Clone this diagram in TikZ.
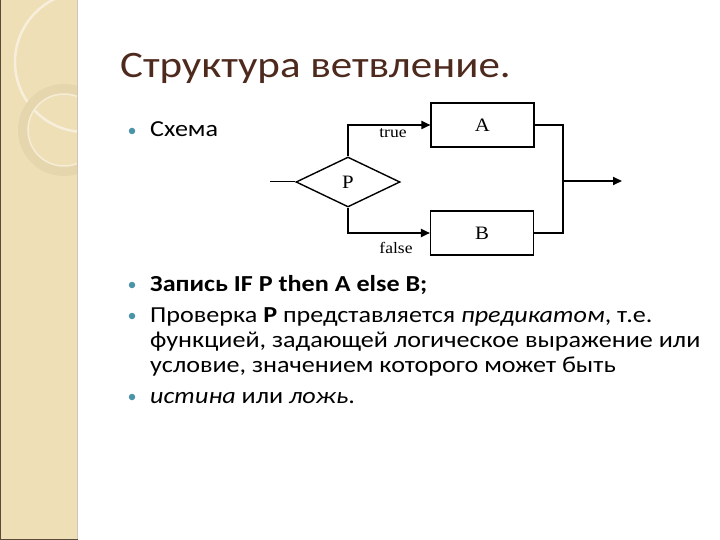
\documentclass[tikz,border=0pt]{standalone}
\usepackage{fontspec}
\setmainfont{Carlito}[FakeStretch=1.14]
\newfontfamily\titlefont{Carlito}[FakeStretch=1.15]
\newfontfamily\diagfont{Liberation Serif}[FakeStretch=1.1]
\usetikzlibrary{shapes.geometric,arrows.meta,positioning,calc}
\definecolor{stripfill}{HTML}{EEDFB6}
\definecolor{stripedge}{HTML}{D6C2B4}
\definecolor{stripdark}{HTML}{5A4A38}
\definecolor{ringtone}{HTML}{E5D6AE}
\definecolor{titlebrown}{HTML}{4E2A1E}
\definecolor{bullteal}{HTML}{4A93A8}

\begin{document}
\begin{tikzpicture}[x=1bp, y=-1bp,
  blk/.style={rectangle, draw, line width=1.1bp, minimum width=103bp, minimum height=44bp, inner sep=0pt, font=\diagfont\fontsize{19}{19}\selectfont},
  cond/.style={diamond, draw, line width=1.4bp, minimum width=104bp, minimum height=50bp, inner sep=0pt, font=\diagfont\fontsize{19}{19}\selectfont},
  flow/.style={line width=1.8bp},
  arr/.style={flow, -{Triangle[length=9bp, width=8bp]}},
  lbl/.style={inner sep=0pt, font=\diagfont\fontsize{16}{16}\selectfont},
  txt/.style={anchor=base west, inner sep=0pt, font=\fontsize{23}{25}\selectfont},
  bull/.style={circle, fill=bullteal, minimum size=6.5bp, inner sep=0pt}
]
  \useasboundingbox (0,0) rectangle (720,540);
  \fill[white] (0,0) rectangle (720,540);

  % left strip
  \fill[stripfill] (0,0) rectangle (77,540);
  \begin{scope}
    \clip (0,0) rectangle (77,540);
    \draw[white!50!stripfill, line width=2.5bp] (85,62) circle (70);
    \draw[ringtone, line width=10bp] (64,130) circle (41);
    \draw[white!45!stripfill, line width=1.5bp] (64,130) circle (36);
  \end{scope}
  \draw[stripedge, line width=1.8bp] (77.5,0) -- (77.5,540);
  \draw[stripdark, line width=1.2bp] (0.6,0) -- (0.6,539.4) -- (78,539.4);

  % title
  \node[anchor=base west, inner sep=0pt, text=titlebrown, font=\titlefont\fontsize{37.5}{44}\selectfont] (title) at (120,78) {Структура ветвление.};

  % bullets
  \node[bull] (b1) at (132,131) {};
  \node[txt] (itemScheme) at (150,137) {Схема};
  \node[bull] (b2) at (132,285) {};
  \node[txt] (itemRec) at (150,291) {\bfseries Запись IF P then A else B;};
  \node[bull] (b3) at (132,316) {};
  \node[txt] (itemCheck) at (150,322) {Проверка \textbf{P} представляется \textit{предикатом}, т.е.};
  \node[txt] (itemCheckB) at (150,347) {функцией, задающей логическое выражение или};
  \node[txt] (itemCheckC) at (150,372) {условие, значением которого может быть};
  \node[bull] (b4) at (132,397) {};
  \node[txt] (itemTruth) at (150,403) {\textit{истина} или \textit{ложь}.};

  % branching scheme
  \node[cond] (test) at (348,182) {P};
  \node[blk] (boxA) at (482.5,125) {A};
  \node[blk] (boxB) at (482,233) {B};
  \coordinate (entry) at (270,182);
  \coordinate (jn) at (563,181);
  \coordinate (exit) at (622,181);

  \draw[line width=1bp] (entry) -- (test.west);
  \draw[arr] (test.north) |- (boxA.west);
  \draw[arr] (test.south) |- (boxB.west);
  \draw[line width=1.2bp] (boxA.east) -| (jn);
  \draw[line width=1.2bp] (jn) |- (boxB.east);
  \draw[flow] (boxB.east) -- ($(boxB.east)+(29,0)$);
  \draw[arr] (jn) -- (exit);

  \node[lbl] (lblTrue) at (393,133) {true};
  \node[lbl] (lblFalse) at (396,248) {false};
\end{tikzpicture}
\end{document}
